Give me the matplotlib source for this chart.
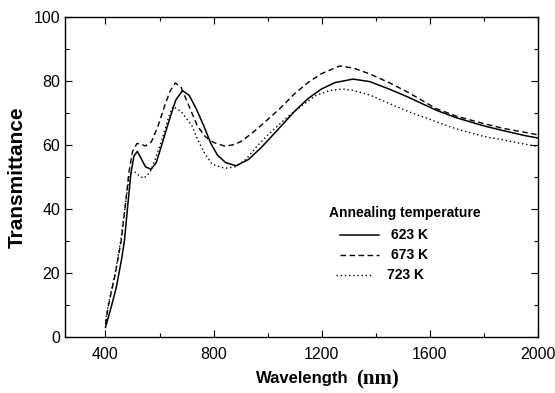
import matplotlib
matplotlib.use("Agg")
import matplotlib.pyplot as plt
from matplotlib.lines import Line2D
from matplotlib.ticker import MultipleLocator

plt.rcParams['font.family'] = ['Liberation Sans', 'DejaVu Sans']

# 623 K
wl_623 = [400, 420, 440, 450, 460, 470, 482, 494, 505, 518, 532, 548, 569, 588, 610, 635, 660, 685, 710, 735,
          765, 790, 815, 845, 884, 930, 980, 1046, 1100, 1150, 1200, 1250, 1317, 1379, 1450, 1520, 1624,
          1700, 1800, 1873, 1950, 2000]
t_623 = [3, 9, 15.5, 20, 24.5, 30, 40.7, 51, 56.5, 58, 55.8, 53.2, 52.4, 54.5, 60.5, 67.5, 74, 77, 75.5, 71.5,
         65.8, 60.5, 56.8, 54.5, 53.5, 55.5, 59.5, 65.5, 70.5, 74.5, 77.5, 79.5, 80.6, 79.8, 77.5, 75, 70.9,
         68.5, 66, 64.5, 63, 62.2]

# 673 K
wl_673 = [400, 410, 437, 458, 473, 486, 500, 517, 532, 548, 570, 595, 620, 640, 659, 680, 705, 740,
          770, 800, 840, 870, 900, 940, 972, 1046, 1100, 1150, 1200, 1268, 1320, 1379, 1450, 1520, 1624, 1700,
          1800, 1873, 1950, 2000]
t_673 = [4, 9.5, 20, 30, 40.7, 51, 58, 60.5, 60.2, 59.7, 61, 66, 72.5, 77, 79.4, 78, 73, 66,
         62.6, 60.8, 59.7, 60, 61, 63.5, 65.8, 71.4, 76, 79.5, 82.3, 84.7, 84, 82.2, 79.5, 76.5, 71.4, 69,
         66.7, 65.2, 64, 63.2]

# 723 K
wl_723 = [400, 410, 437, 458, 473, 486, 497, 510, 526, 542, 565, 588, 613, 635, 650, 680, 720, 745, 770,
          795, 842, 880, 920, 960, 1000, 1070, 1130, 1180, 1230, 1280, 1320, 1379, 1450, 1520, 1624, 1700,
          1800, 1873, 1950, 2000]
t_723 = [5, 10, 20.5, 31, 41, 49, 51.5, 51.5, 50.3, 49.6, 51.5, 56.4, 62.7, 69, 72, 70.5, 66, 61, 57,
         54, 52.7, 53.2, 55.5, 59.5, 63, 68.5, 72.5, 75.5, 77, 77.5, 77, 75.6, 73, 70.5, 67.3, 65,
         62.7, 61.6, 60.3, 59.6]

series_labels = ['623 K', '673 K', '723 K']
legend_title = 'Annealing temperature'

fig = plt.figure(figsize=(5.55, 3.93), dpi=100)
ax = fig.add_axes([65/555, 1-337/393, (537.5-65)/555, 320/393])

ls_solid = dict(color='black', lw=1.1, linestyle='-')
ls_dash = dict(color='black', lw=1.0, linestyle=(0, (4, 2.5)))
ls_dot = dict(color='black', lw=1.0, linestyle=(0, (1, 2)))

ax.plot(wl_623, t_623, **ls_solid)
ax.plot(wl_673, t_673, **ls_dash)
ax.plot(wl_723, t_723, **ls_dot)

ax.set_xlim(250, 2000)
ax.set_ylim(0, 100)
ax.set_xticks([400, 800, 1200, 1600, 2000])
ax.xaxis.set_minor_locator(MultipleLocator(200))
ax.yaxis.set_major_locator(MultipleLocator(20))
ax.yaxis.set_minor_locator(MultipleLocator(10))
ax.tick_params(which='both', direction='in', top=True, right=True, labelsize=11.5, width=0.8)
ax.tick_params(which='major', length=5)
ax.tick_params(which='minor', length=3)
ax.tick_params(axis='x', pad=7)
for s in ax.spines.values():
    s.set_linewidth(1.0)

ax.set_ylabel('Transmittance', fontsize=15, fontweight='bold', labelpad=5)

fig.text(349/555, 1-379/393, 'Wavelength', fontsize=12, fontweight='bold', ha='right', va='center')
fig.text(356/555, 1-379/393, '(nm)', fontsize=15, fontweight='bold', family='Liberation Serif', ha='left', va='center')

# legend block
ax.text(0.559, 0.3875, legend_title, transform=ax.transAxes, fontsize=10, fontweight='bold', ha='left', va='center')
rows = [(ls_solid, 0.32, 0.582, 0.665, 0.69), (ls_dash, 0.257, 0.582, 0.665, 0.69), (ls_dot, 0.194, 0.574, 0.65, 0.681)]
for (st, yy, x0, x1, xt), lab in zip(rows, series_labels):
    ax.add_line(Line2D([x0, x1], [yy, yy], transform=ax.transAxes, **st))
    ax.text(xt, yy, lab, transform=ax.transAxes, fontsize=10, fontweight='bold', ha='left', va='center')

fig.savefig('out.png', dpi=100)
